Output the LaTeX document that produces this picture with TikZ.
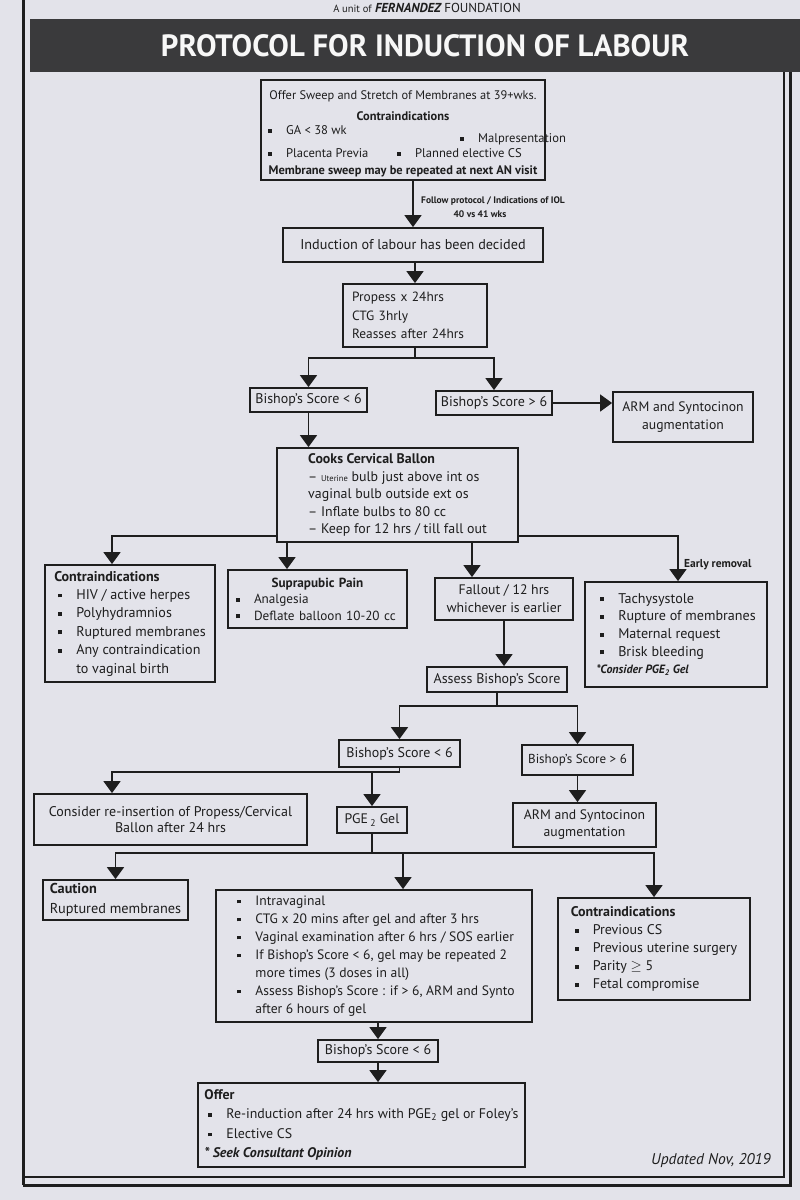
\documentclass[tikz,border=0pt]{standalone}
\usepackage{fontspec}
\usepackage{graphicx}
\setmainfont{PT Sans}
\usetikzlibrary{arrows.meta,calc}
\definecolor{bg}{HTML}{E3E3EA}
\definecolor{ink}{HTML}{1E1E1E}
\definecolor{barc}{HTML}{3A3A3C}
\newcommand\itm{\hspace*{4pt}\makebox[18pt][l]{\raisebox{0.28ex}{\rule{3.8pt}{3.8pt}}}}
\newcommand\cnt{\hspace*{22pt}}
\newcommand\sq{\makebox[18pt][l]{\raisebox{0.28ex}{\rule{3.8pt}{3.8pt}}}}
\begin{document}
\begin{tikzpicture}[x=1pt,y=-1pt,
  box/.style={draw=ink, line width=1.8pt, fill=bg, text=ink, inner sep=0pt, align=center},
  arr/.style={draw=ink, line width=1.6pt, -{Triangle[width=17pt,length=12pt]}},
  ln/.style={draw=ink, line width=1.6pt},
  txt/.style={text=ink, inner sep=0pt},
  fs/.style 2 args={font=\fontsize{#1pt}{#2pt}\selectfont},
  ]
\useasboundingbox (0,0) rectangle (800,1200);
\fill[bg] (0,0) rectangle (800,1200);
\clip (0,0) rectangle (800,1200);

% page frame
\draw[ink, line width=3pt] (23,0) -- (23,1185);
\draw[ink, line width=1.4pt] (784,72) -- (784,1177) -- (23,1177);
\draw[ink, line width=3pt] (790,72) -- (790,1185) -- (23,1185);

% header
\node[txt, anchor=base, fs={13}{15}] (unit) at (427,12) {{\fontsize{10.5}{12}\selectfont A unit of} {\bfseries\itshape FERNANDEZ} FOUNDATION};
\fill[barc] (30,19) rectangle (800,72);
\node[inner sep=0pt, text=white!94!gray] (title) at (425,46) {\resizebox{528pt}{!}{\bfseries PROTOCOL FOR INDUCTION OF LABOUR}};

% box 1
\node[box, minimum width=284pt, minimum height=100pt] (b1) at (403,130) {};
\node[txt, fs={12.4}{14}] (b1a) at (403,96) {Offer Sweep and Stretch of Membranes at 39+wks.};
\node[txt, fs={12.4}{14}] (b1b) at (403,116) {\bfseries Contraindications};
\node[txt, fs={12.6}{14}, anchor=mid west] (b1c) at (264,132) {\itm GA < 38 wk};
\node[txt, fs={12.6}{14}, anchor=mid west] (b1d) at (456,140) {\itm Malpresentation};
\node[txt, fs={12.6}{14}, anchor=mid west] (b1e) at (264,155) {\itm Placenta Previa};
\node[txt, fs={12.6}{14}, anchor=mid west] (b1f) at (393,155) {\itm Planned elective CS};
\node[txt, fs={12.4}{14}] (b1g) at (403,171) {\bfseries Membrane sweep may be repeated at next AN visit};

\node[txt, anchor=west, align=center, fs={9.5}{14}] (lab1) at (421,207) {\bfseries Follow protocol / Indications of IOL\\\bfseries 40 vs 41 wks\hspace*{26pt}};

\node[box, minimum width=260pt, minimum height=34pt, fs={14.2}{16}] (b2) at (413,245) {Induction of labour has been decided};
\node[box, minimum width=144pt, minimum height=63pt, text width=126pt, inner xsep=9pt, align=left, fs={13.4}{18.5}] (prop) at (415,315.5) {Propess x 24hrs\\CTG 3hrly\\Reasses after 24hrs};

\node[box, minimum width=117pt, minimum height=24pt, fs={14}{15}] (bs1) at (308.5,400) {Bishop’s Score < 6};
\node[box, minimum width=116pt, minimum height=24pt, fs={14}{15}] (bs2) at (494,403) {Bishop’s Score > 6};
\node[box, minimum width=140pt, minimum height=50pt, fs={13.7}{18}] (arm1) at (683,417) {ARM and Syntocinon\\augmentation};

\node[box, minimum width=241pt, minimum height=94pt, align=left, fs={13.9}{17.5}] (cooks) at (397.5,495) {{\bfseries Cooks Cervical Ballon}\\– {\fontsize{8.5}{10}\selectfont Uterine} bulb just above int os\\vaginal bulb outside ext os\\– Inflate bulbs to 80 cc\\– Keep for 12 hrs / till fall out};

\node[box, minimum width=170pt, minimum height=117pt, align=left, fs={14.1}{18.4}] (c1) at (130,623.5) {{\bfseries Contraindications}\\\itm HIV / active herpes\\\itm Polyhydramnios\\\itm Ruptured membranes\\\itm Any contraindication\\\cnt to vaginal birth};
\node[box, minimum width=179pt, minimum height=58pt, text width=163pt, inner xsep=8pt, align=left, fs={13.2}{16.5}] (c2) at (317.5,599) {\makebox[163pt][c]{\bfseries Suprapubic Pain}\\\sq Analgesia\\\sq Deflate balloon 10-20 cc};
\node[box, minimum width=138pt, minimum height=42pt, fs={13.8}{18}] (c3) at (504,599) {Fallout / 12 hrs\\whichever is earlier};
\node[box, minimum width=182pt, minimum height=105pt, align=left, fs={14.1}{17.7}] (c4) at (676,634.5) {\itm Tachysystole\\\itm Rupture of membranes\\\itm Maternal request\\\itm Brisk bleeding\\{\fontsize{12}{14}\selectfont\bfseries\itshape *Consider PGE\textsubscript{2} Gel}};
\node[txt, anchor=mid west, fs={11.5}{13}] (lab2) at (684,565) {\bfseries Early removal};

\node[box, minimum width=140pt, minimum height=25pt, fs={14}{15}] (assess) at (497,679.5) {Assess Bishop’s Score};
\node[box, minimum width=121pt, minimum height=27pt, fs={14}{15}] (bs3) at (399.5,753.5) {Bishop’s Score < 6};
\node[box, minimum width=111pt, minimum height=30pt, fs={13}{15}] (bs4) at (577.5,760) {Bishop’s Score > 6};
\node[box, minimum width=143pt, minimum height=44pt, fs={13.7}{17}] (arm2) at (584.5,825) {ARM and Syntocinon\\augmentation};
\node[box, minimum width=273pt, minimum height=51pt, fs={14}{15.5}] (consider) at (170.5,819.5) {Consider re-insertion of Propess/Cervical\\Ballon after 24 hrs};
\node[box, minimum width=70pt, minimum height=26pt, fs={13.8}{15}] (pge) at (372,820) {PGE\,\textsubscript{2} Gel};

\node[box, minimum width=145pt, minimum height=40pt, align=left, fs={14.3}{20}] (caution) at (115.5,900) {{\bfseries Caution}\\Ruptured membranes};
\node[box, minimum width=316pt, minimum height=132pt, align=left, fs={13.6}{18}] (big) at (374,956) {\itm Intravaginal\\\itm CTG x 20 mins after gel and after 3 hrs\\\itm Vaginal examination after 6 hrs / SOS earlier\\\itm If Bishop’s Score < 6, gel may be repeated 2\\\cnt more times (3 doses in all)\\\itm Assess Bishop’s Score : if > 6, ARM and Synto\\\cnt after 6 hours of gel};
\node[box, minimum width=192pt, minimum height=102pt, align=left, fs={14}{18}] (contra2) at (654,949) {{\bfseries Contraindications}\\\itm Previous CS\\\itm Previous uterine surgery\\\itm Parity $\geq$ 5\\\itm Fetal compromise};

\node[box, minimum width=120pt, minimum height=22pt, fs={14}{15}] (bs5) at (378,1051) {Bishop’s Score < 6};
\node[box, minimum width=327pt, minimum height=84pt, align=left, fs={13.9}{19.5}] (offer) at (361.5,1125) {{\bfseries Offer}\\\itm Re-induction after 24 hrs with PGE\textsubscript{2} gel or Foley’s\\\itm Elective CS\\{\bfseries\itshape * Seek Consultant Opinion}};

\node[txt, anchor=mid east, fs={15.5}{17}] (upd) at (771,1162) {\itshape Updated Nov, 2019};

% connectors
\draw[arr] (b2.north |- b1.south) -- (b2.north);
\draw[arr] (prop.north |- b2.south) -- (prop.north);
\draw[ln] (prop.south) -- ++(0,10) coordinate (j1);
\draw[arr] (j1) -| (bs1.north);
\draw[arr] (j1) -| (bs2.north);
\draw[arr] (bs2.east) -- (bs2.east -| arm1.west);
\draw[arr] (bs1.south) -- (bs1.south |- cooks.north);

\coordinate (k1) at (112,536);
\coordinate (k2) at (287,536);
\coordinate (k3) at (472,536);
\coordinate (k4) at (678,536);
\draw[arr] (k1 -| cooks.west) -- (k1) -- (k1 |- c1.north);
\draw[arr] (cooks.east |- k4) -- (k4) -- (k4 |- c4.north);
\draw[arr] (k2 |- cooks.south) -- (k2 |- c2.north);
\draw[arr] (k3 |- cooks.south) -- (k3 |- c3.north);

\draw[arr] (c3.south) -- (c3.south |- assess.north);
\draw[ln] (assess.south) -- ++(0,13) coordinate (j2);
\draw[arr] (j2) -| (bs3.north);
\draw[arr] (j2) -| (bs4.north);
\draw[arr] (bs4.south) -- (bs4.south |- arm2.north);

\draw[ln] (bs3.south) -- ++(0,4) coordinate (j3);
\coordinate (k5) at (112,0);
\draw[arr] (j3) -| (k5 |- consider.north);
\draw[arr] (pge.north |- j3) -- (pge.north);

\draw[ln] (pge.south) -- ++(0,19) coordinate (j4);
\draw[arr] (j4) -| (caution.north);
\draw[arr] (j4) -| (contra2.north);
\coordinate (k6) at (403,852);
\draw[arr] (k6) -- (k6 |- big.north);

\draw[arr] (bs5.north |- big.south) -- (bs5.north);
\draw[arr] (bs5.south) -- (bs5.south |- offer.north);
\end{tikzpicture}
\end{document}
